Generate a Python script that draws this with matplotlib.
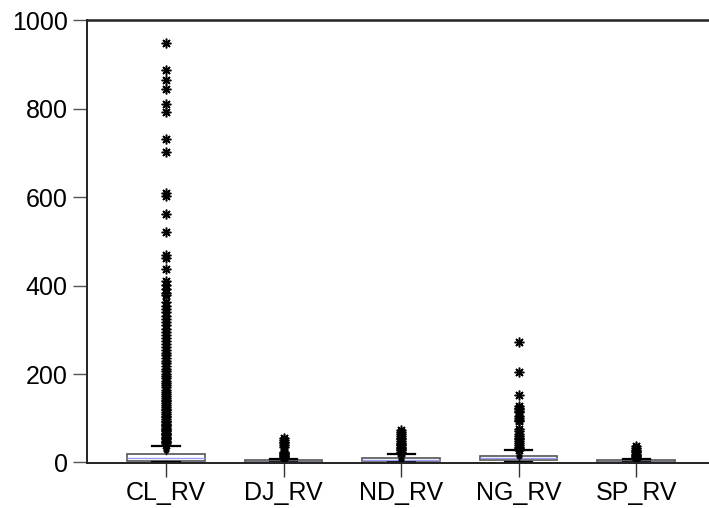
import matplotlib
matplotlib.use("Agg")
import matplotlib.pyplot as plt

plt.rcParams['font.family'] = ['Liberation Sans', 'DejaVu Sans']

categories = ["CL_RV", "DJ_RV", "ND_RV", "NG_RV", "SP_RV"]

# box statistics: lower whisker, Q1, median, Q3, upper whisker, mean
whislo = [0.8, 0.1, 1.0, 1.0, 0.1]
q1 = [2.5, 0.3, 3.6, 5.0, 0.3]
med = [11.0, 1.5, 6.0, 9.0, 1.2]
q3 = [20.0, 4.5, 10.0, 15.0, 4.5]
whishi = [37.0, 8.0, 19.0, 27.0, 7.0]
means = [28.0, 3.0, 7.0, 14.0, 2.5]

cl_out = [950, 889, 865, 846, 812, 793, 732, 703, 609, 603, 562, 522, 469, 463,
          438, 410, 402, 393, 384, 379, 362, 355, 348, 340, 332, 325, 318, 310,
          303, 296, 289, 282, 275, 268, 261, 255, 248, 242, 236, 230, 224, 218,
          212, 206, 200, 195, 190, 185, 180, 175, 170, 165, 160, 155, 150, 146,
          142, 138, 134, 130, 126, 122, 118, 114, 110, 106, 102, 98, 94, 91, 88,
          85, 82, 79, 76, 73, 70, 67, 64, 61, 58, 55, 52, 49, 46, 43, 40]
dj_out = [55, 51, 47, 43, 39, 35, 24, 21, 18, 16, 14, 12, 10, 9]
nd_out = [73, 68, 64, 60, 56, 52, 48, 45, 42, 39, 36, 33, 30, 27, 24, 21]
ng_out = [272, 205, 152, 128, 124, 120, 117, 113, 105, 101, 97, 93, 75, 70,
          65, 60, 56, 52, 48, 44, 40, 36, 32, 29]
sp_out = [37, 33, 29, 26, 23, 20, 17, 14, 12, 10, 8]

outliers = [cl_out, dj_out, nd_out, ng_out, sp_out]

fig = plt.figure(figsize=(7.09, 5.08), dpi=100)
ax = fig.add_axes([87 / 709, (508 - 463.3) / 508, 1 - 87 / 709, (463.3 - 20.5) / 508])

stats = []
for i, name in enumerate(categories):
    stats.append(dict(label=name, whislo=whislo[i], q1=q1[i], med=med[i],
                      q3=q3[i], whishi=whishi[i], mean=means[i],
                      fliers=outliers[i]))

positions = list(range(1, len(categories) + 1))
ax.bxp(stats, positions=positions, widths=0.66, capwidths=0.23,
       patch_artist=True, showmeans=True,
       boxprops=dict(facecolor='white', edgecolor='#555555', linewidth=1.2),
       medianprops=dict(color='#9a9af0', linewidth=1.0),
       whiskerprops=dict(color='black', linewidth=1.0),
       capprops=dict(color='black', linewidth=1.6),
       flierprops=dict(marker=(8, 2, 0), markerfacecolor='black',
                       markeredgecolor='black', markersize=7,
                       markeredgewidth=1.1, linestyle='none'),
       meanprops=dict(marker='o', markerfacecolor='black',
                      markeredgecolor='black', markersize=3.5))

ax.set_xlim(0.328, 5.62)
ax.set_ylim(-2, 1000)
ax.set_yticks([0, 200, 400, 600, 800, 1000])
ax.set_xticks(positions)
ax.set_xticklabels(categories)

for s in ['left', 'bottom']:
    ax.spines[s].set_linewidth(1.4)
    ax.spines[s].set_color('#222222')
ax.spines['top'].set_linewidth(1.8)
ax.spines['top'].set_color('#222222')
ax.spines['right'].set_visible(False)

ax.tick_params(axis='y', length=10, width=1, color='#555555', pad=4,
               labelsize=18, direction='out')
ax.tick_params(axis='x', length=10, width=1, color='#333333', pad=3,
               labelsize=18, direction='out')

fig.savefig("out.png", dpi=100)
